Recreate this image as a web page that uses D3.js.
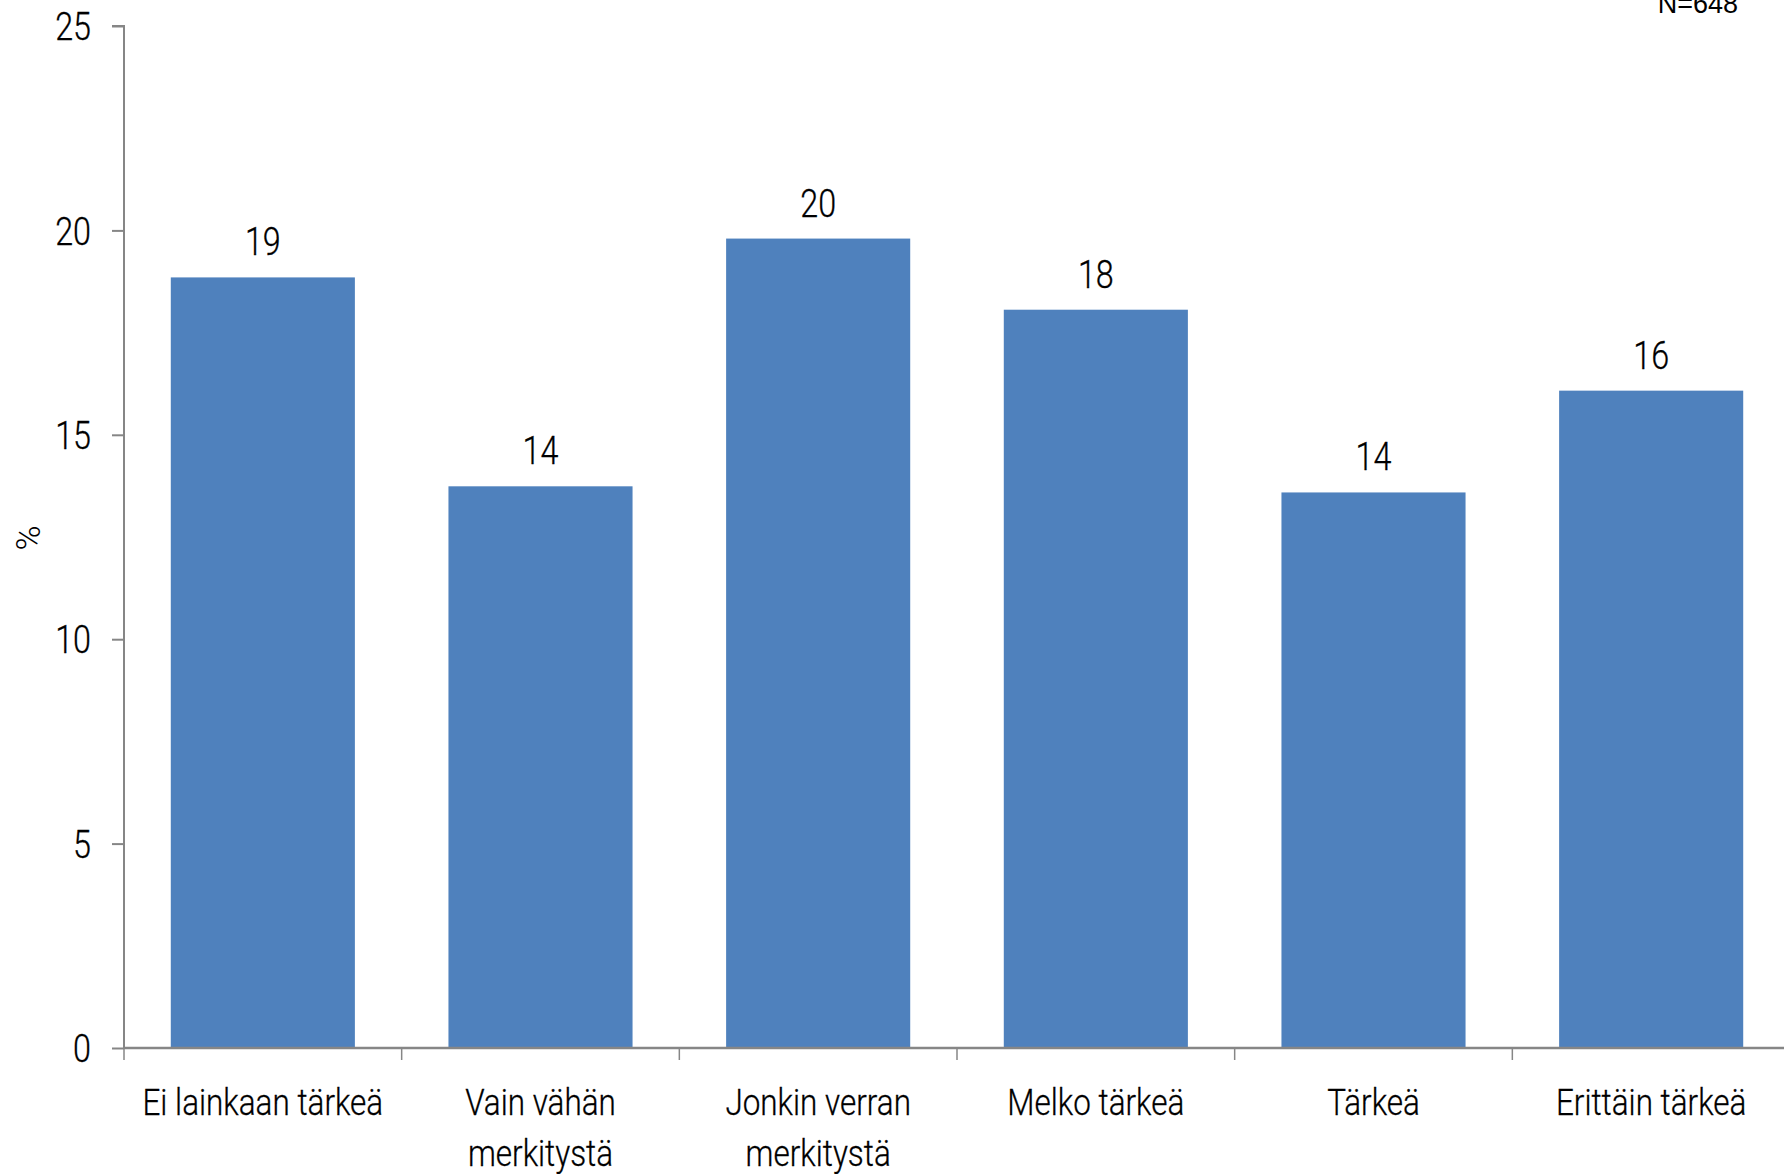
<!DOCTYPE html>
<html>
<head>
<meta charset="utf-8">
<script src="https://cdn.jsdelivr.net/npm/d3@7"></script>
<style>
  html, body { margin: 0; padding: 0; background: #fff; }
  svg { display: block; }
  .cond { font-family: Roboto, "Liberation Sans", sans-serif; font-weight: 300; }
</style>
</head>
<body>
<svg id="chart" width="1784" height="1174"></svg>
<script>
const categories = [
  ["Ei lainkaan tärkeä"],
  ["Vain vähän", "merkitystä"],
  ["Jonkin verran", "merkitystä"],
  ["Melko tärkeä"],
  ["Tärkeä"],
  ["Erittäin tärkeä"]
];
const values = [18.85, 13.74, 19.8, 18.06, 13.59, 16.08];
const valueLabels = ["19", "14", "20", "18", "14", "16"];
const yTicks = [0, 5, 10, 15, 20, 25];
const yLabel = "%";
const note = "N=648";

const SX = 0.85; // horizontal condensation of the narrow typeface

const svg = d3.select("#chart");
const margin = { left: 124, top: 26, bottom: 1048 };
const xRange = [124, 1790];

const x = d3.scaleBand()
  .domain(categories.map((d, i) => i))
  .range(xRange)
  .paddingInner(0.337)
  .paddingOuter(0.337 / 2);

const y = d3.scaleLinear().domain([0, 25]).range([margin.bottom, margin.top]);

const axisColor = "#868686";

// Bars
svg.append("g").selectAll("rect")
  .data(values)
  .join("rect")
  .attr("x", (d, i) => x(i))
  .attr("y", d => y(d))
  .attr("width", x.bandwidth())
  .attr("height", d => y(0) - y(d))
  .attr("fill", "#4F81BD");

// Value labels
svg.append("g").selectAll("text")
  .data(values)
  .join("text")
  .attr("class", "cond")
  .attr("transform", (d, i) => `translate(${x(i) + x.bandwidth() / 2},${y(d) - 22}) scale(${SX},1)`)
  .attr("text-anchor", "middle")
  .attr("font-size", 38)
  .attr("fill", "#000")
  .attr("stroke", "#000")
  .attr("stroke-width", 0.3)
  .text((d, i) => valueLabels[i]);

// Y axis
const yAxis = d3.axisLeft(y).tickValues(yTicks).tickSize(12).tickPadding(21).tickFormat(d3.format("d"));
const gy = svg.append("g").attr("transform", `translate(${margin.left},0)`).call(yAxis);
gy.select(".domain").attr("stroke", axisColor).attr("stroke-width", 2).attr("d", `M-12,${y(25)}H0V${y(0)}`);
gy.selectAll(".tick line").attr("stroke", axisColor).attr("stroke-width", 2);
gy.selectAll(".tick text").each(function() {
  const t = d3.select(this);
  const x0 = +t.attr("x");
  t.attr("x", 0)
   .attr("transform", `translate(${x0},0) scale(${SX},1)`)
   .attr("class", "cond")
   .attr("font-size", 38)
   .attr("fill", "#000")
   .attr("stroke", "#000")
   .attr("stroke-width", 0.3)
   .attr("dy", "0.36em");
});

// X axis line and ticks at band boundaries
const xBoundaries = categories.map((d, i) => x(i) - x.step() * x.paddingInner() / 2).concat([xRange[1]]);
svg.append("line")
  .attr("x1", margin.left).attr("x2", 1784)
  .attr("y1", y(0)).attr("y2", y(0))
  .attr("stroke", axisColor).attr("stroke-width", 2.5);
svg.append("g").selectAll("line")
  .data(xBoundaries)
  .join("line")
  .attr("x1", d => d).attr("x2", d => d)
  .attr("y1", y(0)).attr("y2", y(0) + 12)
  .attr("stroke", axisColor).attr("stroke-width", 1.5);

// Category labels
const catG = svg.append("g").selectAll("text")
  .data(categories)
  .join("text")
  .attr("class", "cond")
  .attr("text-anchor", "middle")
  .attr("font-size", 37)
  .attr("fill", "#000")
  .attr("stroke", "#000")
  .attr("stroke-width", 0.3)
  .attr("transform", (d, i) => `translate(${x(i) + x.bandwidth() / 2},1115) scale(${SX},1)`);
catG.selectAll("tspan")
  .data(d => d)
  .join("tspan")
  .attr("x", 0)
  .attr("dy", (d, j) => j === 0 ? 0 : 51)
  .text(d => d);

// Y label
svg.append("text")
  .attr("class", "cond")
  .attr("transform", `translate(40,538) rotate(-90)`)
  .attr("text-anchor", "middle")
  .attr("font-size", 34)
  .attr("fill", "#000")
  .text(yLabel);

// N note
svg.append("text")
  .attr("x", 1738)
  .attr("y", 13)
  .attr("text-anchor", "end")
  .attr("font-family", "Liberation Sans, Arial, sans-serif")
  .attr("font-size", 27)
  .attr("fill", "#000")
  .text(note);
</script>
</body>
</html>
